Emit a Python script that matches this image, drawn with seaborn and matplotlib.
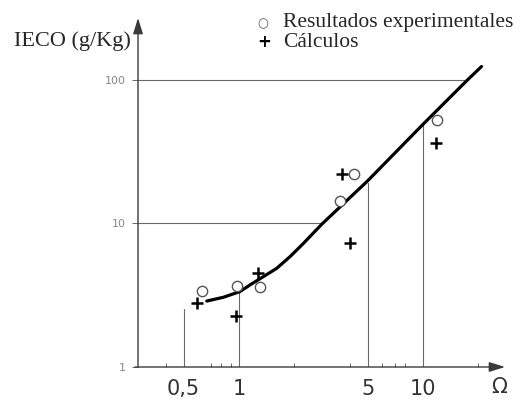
import numpy as np
import pandas as pd
import matplotlib
matplotlib.use("Agg")
import matplotlib.pyplot as plt
import seaborn as sns

# -----------------------------
# DATA
# -----------------------------
curve_omega = [0.668, 0.822, 1.01, 1.148, 1.356, 1.603, 1.893, 2.236, 2.815,
               4.98, 10.13, 17.1, 20.8]
curve_ieco = [2.88, 3.06, 3.35, 3.73, 4.26, 4.87, 5.87, 7.25, 9.87,
              19.7, 49.9, 97.5, 124.0]

exp_omega = [0.63, 0.975, 1.30, 3.54, 4.22, 11.9]
exp_ieco = [3.38, 3.67, 3.60, 14.3, 22.1, 52.6]

calc_omega = [0.59, 0.96, 1.27, 3.63, 4.01, 11.8]
calc_ieco = [2.79, 2.27, 4.52, 22.1, 7.31, 36.4]

# reference lines from the axes up / across to the curve
drop_x = [0.5, 1, 5, 10]
drop_top = [2.54, 3.35, 19.0, 48.5]
hline_y = [10, 100]
hline_end = [2.85, 17.3]

x_tick_vals = [0.5, 1, 5, 10]
x_tick_labels = ["0,5", "1", "5", "10"]
y_tick_vals = [1, 10, 100]
y_tick_labels = ["1", "10", "100"]

curve = pd.DataFrame({"omega": curve_omega, "ieco": curve_ieco})
exp = pd.DataFrame({"omega": exp_omega, "ieco": exp_ieco})
calc = pd.DataFrame({"omega": calc_omega, "ieco": calc_ieco})

# -----------------------------
# PLOT
# -----------------------------
sns.set_style("white")
fig = plt.figure(figsize=(5.23, 4.01), dpi=100)
ax = fig.add_axes([0.2639, 0.0848, 0.7017, 0.8703])
ax.set_xscale("log")
ax.set_yscale("log")
ax.set_xlim(0.2826, 27.9)
ax.set_ylim(1, 270)

grey = "#6a6a6a"
for x, top in zip(drop_x, drop_top):
    ax.plot([x, x], [1, top], color=grey, lw=0.8, zorder=1)
for y, end in zip(hline_y, hline_end):
    ax.plot([0.2826, end], [y, y], color=grey, lw=0.8, zorder=1)

sns.lineplot(data=curve, x="omega", y="ieco", color="black", lw=2.3, ax=ax,
             sort=False, zorder=3)
sns.scatterplot(data=exp, x="omega", y="ieco", marker="o", s=55,
                facecolor="white", edgecolor="#555555", linewidth=1.0, ax=ax, zorder=4)
sns.scatterplot(data=calc, x="omega", y="ieco", marker="+", s=70,
                color="black", linewidth=1.8, ax=ax, zorder=4)

for side in ["top", "right", "left", "bottom"]:
    ax.spines[side].set_visible(False)

# axes with arrows
arrow = dict(arrowstyle="-|>,head_length=0.8,head_width=0.25", color="#3a3a3a",
             lw=1.0, mutation_scale=12, shrinkA=0, shrinkB=0)
ax.annotate("", xy=(1.0, 0), xytext=(-0.008, 0), xycoords="axes fraction",
            arrowprops=arrow)
ax.annotate("", xy=(0, 1.0), xytext=(0, 0), xycoords="axes fraction",
            arrowprops=arrow)

ax.set_xticks(x_tick_vals)
ax.set_xticklabels(x_tick_labels, fontsize=15, color="#333333")
ax.set_xticks([0.4, 0.7, 0.8, 0.9, 2, 4, 6, 7, 8, 20], minor=True)
ax.tick_params(axis="x", which="minor", direction="in", length=3, color=grey,
               width=0.7, bottom=True)
ax.tick_params(axis="x", which="major", direction="in", length=0, pad=9, bottom=True)
ax.set_yticks(y_tick_vals)
ax.set_yticklabels(y_tick_labels, fontsize=8, color="#888888")
ax.yaxis.set_minor_locator(matplotlib.ticker.NullLocator())
ax.tick_params(axis="y", which="major", direction="out", length=4, color=grey,
               width=0.7, left=True, pad=5)
ax.set_xlabel("")
ax.set_ylabel("")

fig.text(499 / 523, 1 - 387 / 401, "Ω", fontsize=15, color="#333333",
         ha="center", va="center")

serif = "Liberation Serif"
fig.text(14 / 523, 1 - 46 / 401, "IECO (g/Kg)", family=serif, fontsize=16,
         ha="left", va="baseline")
fig.text(283 / 523, 1 - 27 / 401, "Resultados experimentales", family=serif,
         fontsize=15.5, ha="left", va="baseline")
fig.text(283 / 523, 1 - 47 / 401, "Cálculos", family=serif, fontsize=15.5,
         ha="left", va="baseline")
fig.text(263 / 523, 1 - 24 / 401, "○", fontsize=9, color="#555555",
         ha="center", va="center")
fig.text(264 / 523, 1 - 42 / 401, "+", fontsize=12, color="black",
         ha="center", va="center", weight="bold")

fig.savefig("out.png", dpi=100, facecolor="white")
